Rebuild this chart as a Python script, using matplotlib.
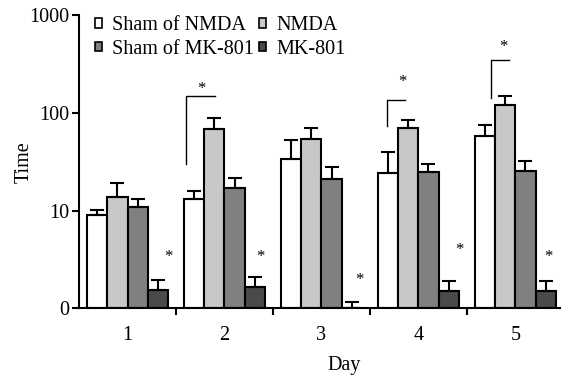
import matplotlib
matplotlib.use("Agg")
import matplotlib.pyplot as plt
from matplotlib.patches import Patch
import numpy as np

plt.rcParams['font.family'] = ['Liberation Serif', 'DejaVu Serif']

days = ['1', '2', '3', '4', '5']
groups = ['Sham of NMDA', 'NMDA', 'Sham of MK-801', 'MK-801']
colors = ['#ffffff', '#c8c8c8', '#808080', '#4a4a4a']

sham_nmda = [9.1, 13.0, 33.8, 24.3, 58.0]
nmda = [13.7, 69.0, 54.5, 70.0, 121.0]
sham_mk801 = [11.0, 17.1, 21.3, 24.7, 25.5]
mk801 = [1.56, 1.67, 1.0, 1.52, 1.52]

sham_nmda_err = [1.1, 2.9, 18.6, 15.5, 16.5]
nmda_err = [5.5, 20.0, 15.0, 15.0, 27.0]
sham_mk801_err = [2.3, 4.5, 6.7, 5.6, 6.5]
mk801_err = [0.38, 0.41, 0.15, 0.39, 0.39]

# stars next to MK-801 bars
mk_star_x = [0.418, 1.366, 2.387, 3.418, 4.345]
mk_star_y = [3.35, 3.35, 1.95, 3.96, 3.35]
# brackets Sham of NMDA vs NMDA (days 2, 4, 5)
bracket_x0 = [0.603, 2.672, 3.747]
bracket_x1 = [0.902, 2.861, 3.933]
bracket_low = [29.8, 72.8, 141]
bracket_high = [149, 134, 348]
bracket_star_x = [0.758, 2.840, 3.881]
bracket_star_y = [174, 205, 467]

values = [sham_nmda, nmda, sham_mk801, mk801]
errors = [sham_nmda_err, nmda_err, sham_mk801_err, mk801_err]

fig = plt.figure(figsize=(5.61, 3.77), dpi=100)
ax = fig.add_axes([0.141, 0.182, 0.857, 0.778])

x = np.arange(len(days))
width = 0.209
for i, (vals, errs, c) in enumerate(zip(values, errors, colors)):
    pos = x + (i - 1.5) * width
    ax.bar(pos, np.array(vals) - 1, width, bottom=1, color=c,
           edgecolor='black', linewidth=1.5, zorder=2)
    ax.errorbar(pos, vals, yerr=[np.zeros(len(vals)), errs], fmt='none',
                ecolor='black', elinewidth=1.5, capsize=5, capthick=1.5, zorder=3)

for sx, sy in zip(mk_star_x, mk_star_y):
    ax.text(sx, sy, '*', ha='center', va='center', fontsize=12)

for x0, x1, lo, hi, sx, sy in zip(bracket_x0, bracket_x1, bracket_low,
                                  bracket_high, bracket_star_x, bracket_star_y):
    ax.plot([x0, x0, x1], [lo, hi, hi], color='black', lw=1.0)
    ax.text(sx, sy, '*', ha='center', va='center', fontsize=12)

ax.set_yscale('log')
ax.set_ylim(1, 1000)
ax.set_yticks([1, 10, 100, 1000])
ax.set_yticklabels(['0', '10', '100', '1000'])
ax.yaxis.set_minor_locator(plt.NullLocator())
ax.set_xlim(-0.5, 4.46)
ax.set_xticks(x)
ax.set_xticklabels(days)
ax.tick_params(axis='x', length=0, labelsize=14.5, pad=13)
ax.set_xticks(x[:-1] + 0.5, minor=True)
ax.tick_params(axis='x', which='minor', length=5, width=1.5)
ax.tick_params(axis='y', length=5, width=1.5, labelsize=14.5, pad=2)
ax.set_ylabel('Time', fontsize=14.5)
ax.yaxis.set_label_coords(-0.095, 0.5)
ax.set_xlabel('Day', fontsize=14.5)
ax.xaxis.set_label_coords(0.551, -0.162)

for s in ['top', 'right']:
    ax.spines[s].set_visible(False)
for s in ['left', 'bottom']:
    ax.spines[s].set_linewidth(1.5)

handles = [Patch(facecolor=c, edgecolor='black', linewidth=1.2) for c in colors]
order = [0, 2, 1, 3]
ax.legend([handles[i] for i in order], [groups[i] for i in order], ncol=2,
          loc='upper left', bbox_to_anchor=(0.033, 0.996), frameon=False,
          fontsize=14.5, handlelength=0.35, handleheight=0.35, handletextpad=0.5,
          columnspacing=0.25, labelspacing=0.22, borderaxespad=0, borderpad=0)

fig.savefig('out.png', dpi=100)
